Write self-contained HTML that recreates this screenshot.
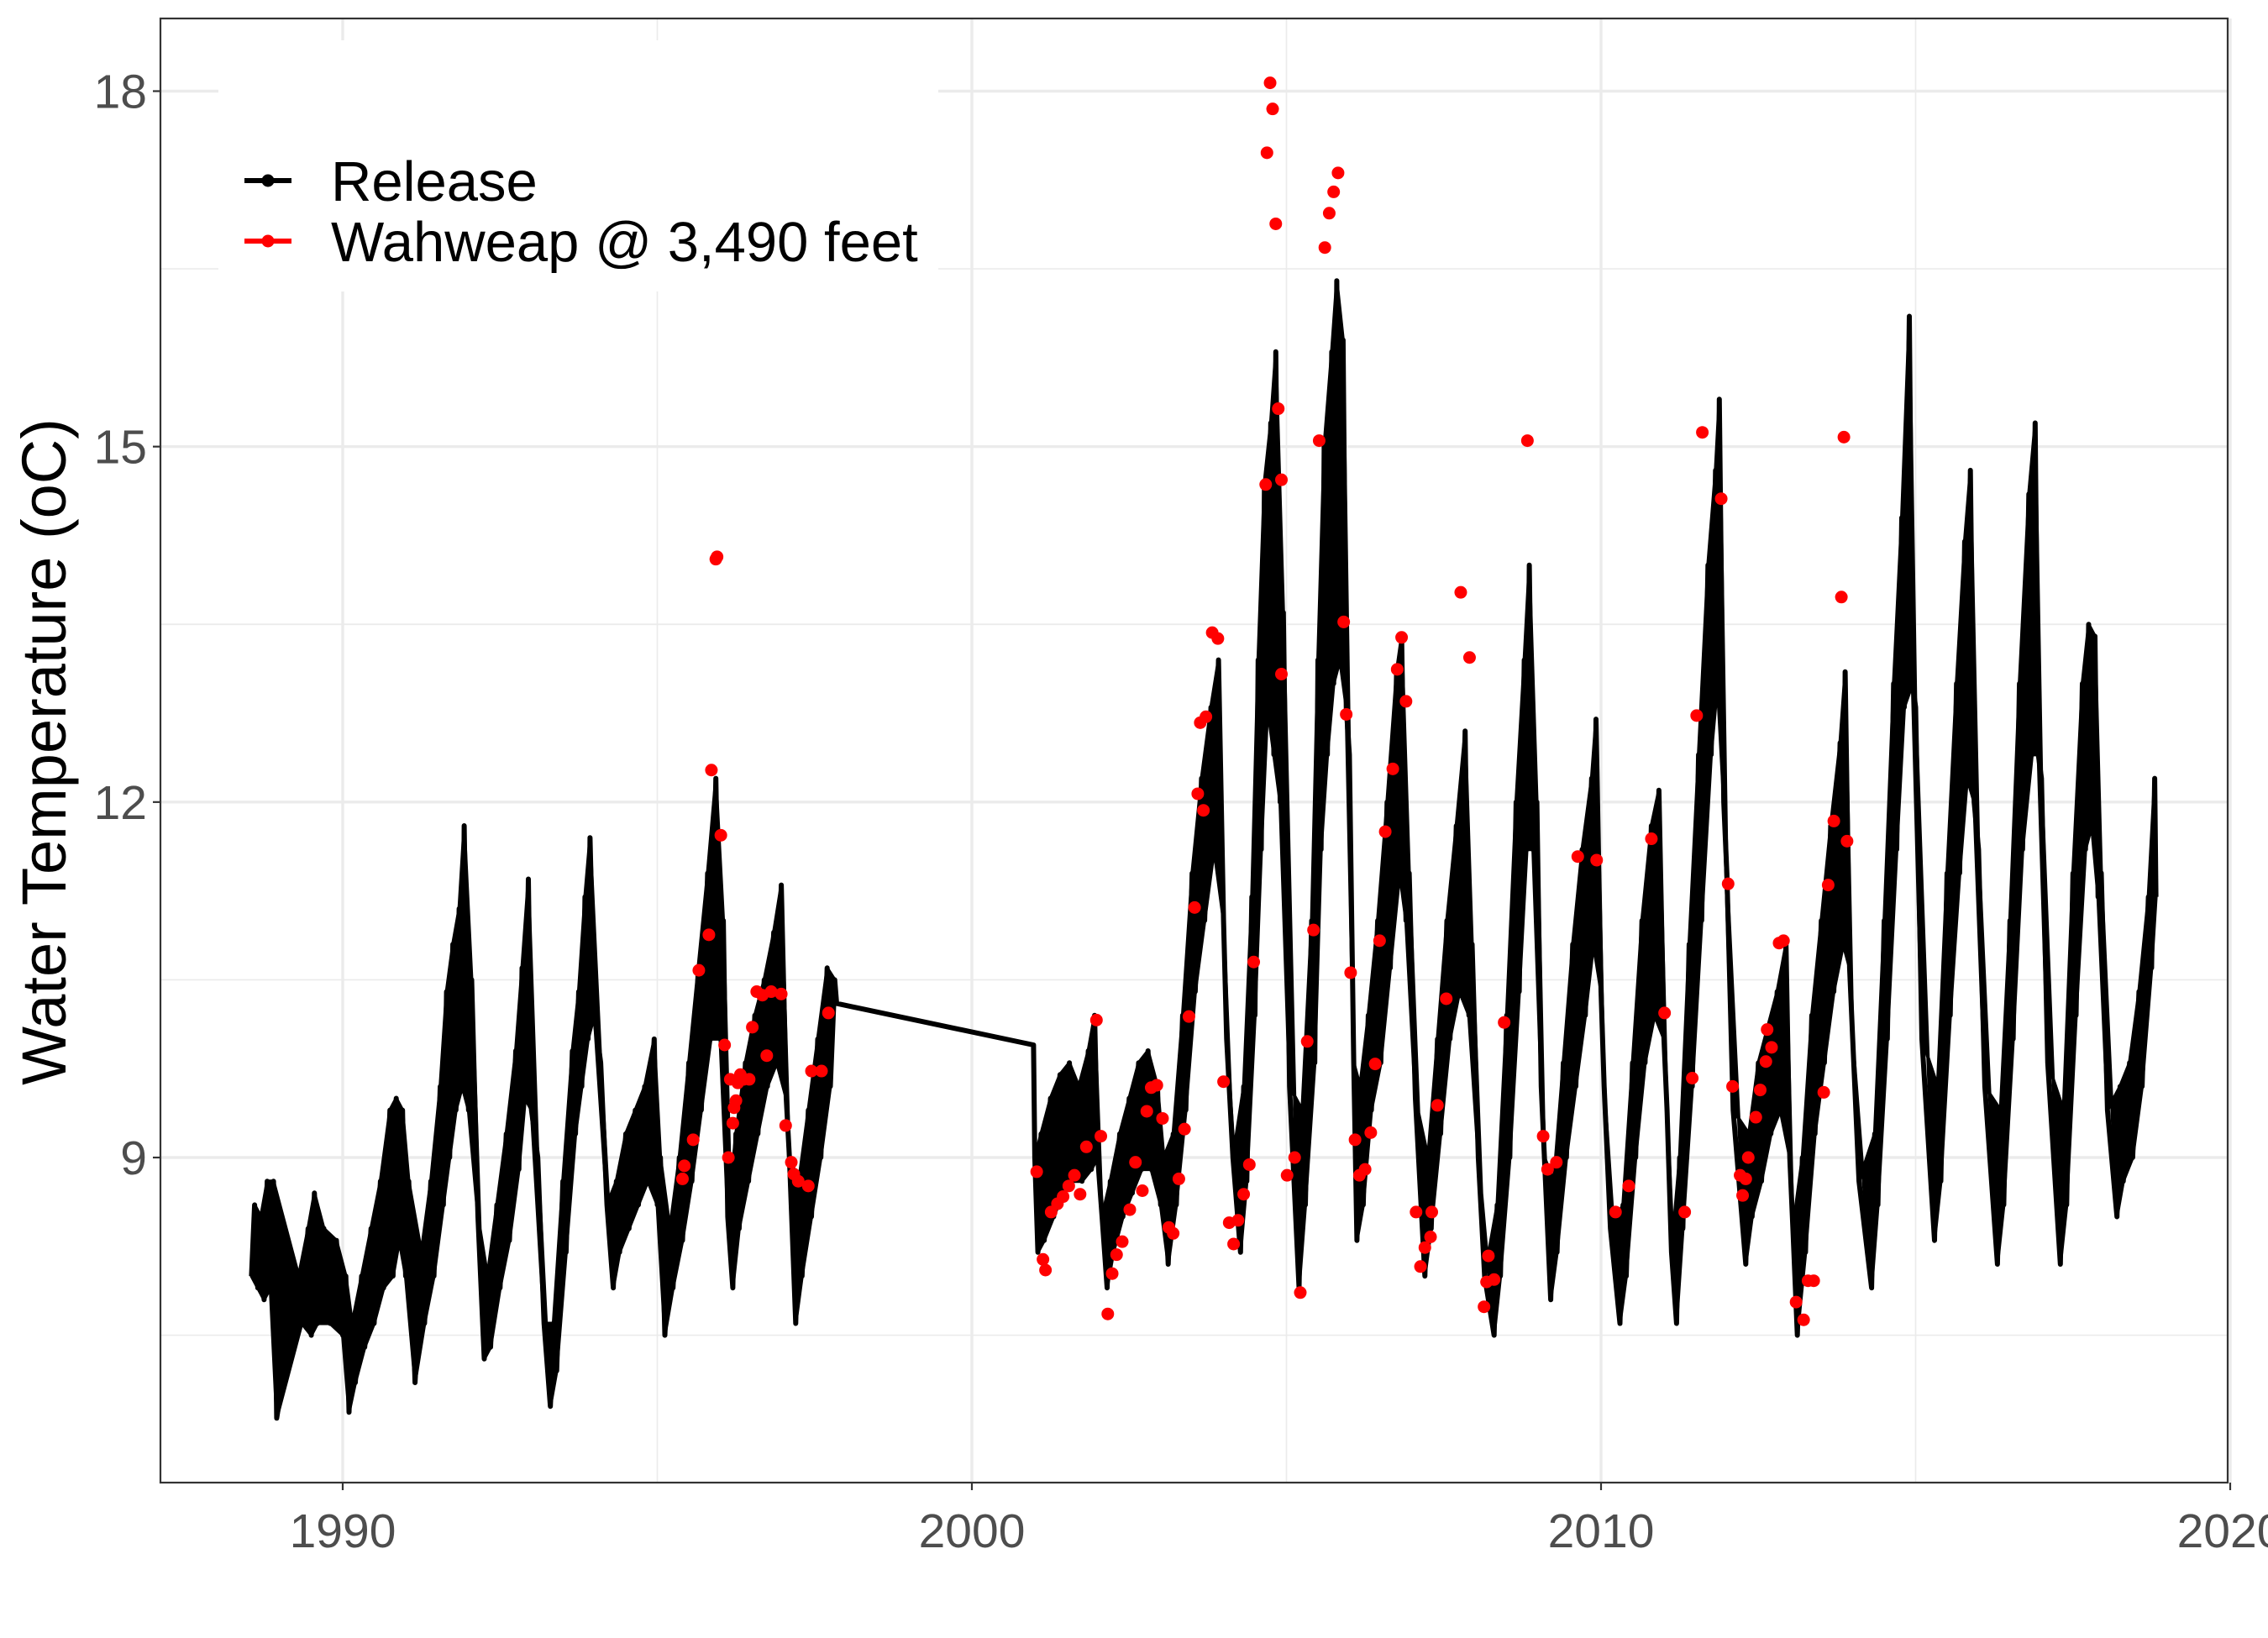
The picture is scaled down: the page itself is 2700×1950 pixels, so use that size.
<!DOCTYPE html>
<html><head><meta charset="utf-8"><style>
html,body{margin:0;padding:0;background:#fff;}
svg{display:block;font-family:"Liberation Sans",Arial,sans-serif;}
</style></head><body>
<svg id="chart" width="2700" height="1950" viewBox="0 0 2700 1950" xmlns="http://www.w3.org/2000/svg">
<rect x="0" y="0" width="2700" height="1950" fill="#fff"/>
<g id="grid"></g>
<g id="series"></g>
<g id="axes"></g>
<g id="legend"></g>
</svg>
<script>
const relDates = [1988.55,1988.6,1988.65,1988.7,1988.75,1988.8,1988.85,1988.9,1988.95,
1989.3,1989.35,1989.45,1989.5,1989.55,1989.6,1989.7,1989.8,1989.9,1990.0,1990.05,1990.1,
1990.15,1990.2,1990.3,1990.35,1990.45,1990.5,1990.6,1990.65,1990.75,1990.8,1990.85,1990.9,1990.95,1991.0,1991.05,1991.15,
1991.25,1991.3,1991.4,1991.45,1991.55,1991.6,1991.65,1991.7,1991.75,1991.8,1991.85,1991.9,1991.93,1992.0,1992.05,1992.15,1992.25,
1992.3,1992.35,1992.45,1992.5,1992.6,1992.65,1992.75,1992.8,1992.85,1992.9,1992.95,1993.0,1993.1,1993.2,1993.3,
1993.35,1993.4,1993.5,1993.55,1993.65,1993.7,1993.75,1993.8,1993.85,1993.9,1993.93,1994.0,1994.1,1994.2,1994.3,
1994.35,1994.4,1994.5,1994.55,1994.65,1994.7,1994.8,1994.85,1994.95,1995.0,1995.05,1995.12,
1995.2,1995.25,1995.35,1995.4,1995.5,1995.55,1995.65,1995.7,1995.8,1995.85,1995.93,1996.0,1996.05,1996.12,1996.2,
1996.25,1996.3,1996.4,1996.45,1996.55,1996.6,1996.7,1996.75,1996.85,1996.9,1996.97,1997.05,1997.1,1997.2,
1997.25,1997.3,1997.4,1997.45,1997.55,1997.6,1997.7,1997.75,1997.82,1997.85,
2000.98,
2001.0,2001.05,2001.1,2001.15,2001.25,2001.3,2001.4,2001.45,2001.55,2001.6,2001.7,2001.75,2001.85,2001.9,2001.95,2002.0,2002.07,2002.15,
2002.2,2002.25,2002.35,2002.4,2002.5,2002.55,2002.65,2002.7,2002.8,2002.85,2002.95,2003.0,2003.05,2003.12,
2003.2,2003.25,2003.35,2003.4,2003.5,2003.55,2003.65,2003.7,2003.8,2003.85,2003.92,2004.0,2004.05,2004.15,2004.27,
2004.32,2004.37,2004.45,2004.5,2004.55,2004.6,2004.65,2004.7,2004.75,2004.8,2004.83,2004.9,2004.95,2005.05,2005.2,
2005.25,2005.3,2005.4,2005.45,2005.5,2005.55,2005.6,2005.65,2005.72,2005.75,2005.8,2005.85,2005.9,2005.95,2006.0,2006.07,2006.12,
2006.17,2006.22,2006.3,2006.35,2006.45,2006.5,2006.6,2006.65,2006.75,2006.8,2006.83,2006.9,2006.95,2007.05,2007.2,
2007.25,2007.3,2007.4,2007.45,2007.55,2007.6,2007.7,2007.75,2007.84,2007.9,2007.95,2008.05,2008.15,2008.3,
2008.35,2008.4,2008.5,2008.55,2008.65,2008.7,2008.78,2008.82,2008.86,2008.92,2008.98,2009.05,2009.1,2009.2,
2009.25,2009.3,2009.4,2009.45,2009.55,2009.6,2009.7,2009.75,2009.85,2009.88,2009.92,2010.0,2010.05,2010.15,2010.3,
2010.35,2010.4,2010.5,2010.55,2010.65,2010.7,2010.8,2010.85,2010.92,2011.0,2011.05,2011.12,2011.2,
2011.25,2011.3,2011.4,2011.45,2011.55,2011.6,2011.7,2011.75,2011.82,2011.85,2011.88,2011.95,2012.0,2012.1,2012.3,
2012.35,2012.4,2012.5,2012.55,2012.65,2012.7,2012.8,2012.85,2012.94,2013.0,2013.05,2013.12,
2013.2,2013.25,2013.35,2013.4,2013.5,2013.55,2013.65,2013.7,2013.8,2013.85,2013.88,2013.95,2014.0,2014.1,2014.3,
2014.35,2014.4,2014.5,2014.55,2014.65,2014.7,2014.78,2014.82,2014.9,2014.95,2015.0,2015.1,2015.3,
2015.35,2015.4,2015.5,2015.55,2015.65,2015.7,2015.78,2015.82,2015.87,2015.93,2016.0,2016.1,2016.3,
2016.35,2016.4,2016.5,2016.55,2016.65,2016.7,2016.8,2016.85,2016.9,2016.95,2017.0,2017.1,2017.3,
2017.35,2017.4,2017.5,2017.55,2017.65,2017.7,2017.75,2017.8,2017.85,2017.9,2017.95,2018.05,2018.2,
2018.25,2018.3,2018.4,2018.45,2018.55,2018.6,2018.7,2018.75,2018.8,2018.82];
const relTemps = [8.0,8.6,7.9,8.5,7.8,8.8,7.9,8.8,6.8,
8.0,7.6,8.4,7.5,8.7,7.6,8.4,7.6,8.3,7.5,8.0,6.85,
7.6,7.1,8.0,7.4,8.4,7.6,8.8,7.9,9.4,8.0,9.5,8.3,9.4,8.0,8.8,7.1,
8.2,7.6,8.8,8.0,9.6,8.6,10.4,9.0,10.8,9.4,11.1,9.6,11.8,9.4,10.5,8.5,7.3,
8.0,7.4,8.6,7.9,9.2,8.3,9.9,8.9,10.6,9.5,11.35,9.4,9.0,7.6,6.9,
7.6,7.2,8.8,8.2,9.9,9.2,10.4,9.6,11.2,10.0,11.7,10.2,9.8,8.6,7.9,
8.8,8.2,9.2,8.4,9.4,8.6,9.6,8.8,10.0,8.6,9.0,7.5,
8.4,7.9,9.0,8.3,9.8,8.8,10.6,9.4,11.4,10.0,12.2,10.0,11.0,8.5,7.9,
9.2,8.4,9.8,8.8,10.2,9.2,10.5,9.6,10.9,9.8,11.3,9.5,9.0,7.6,
8.8,8.0,9.4,8.5,10.0,9.0,10.6,9.6,10.5,10.3,
9.95,
9.0,8.2,9.2,8.3,9.5,8.5,9.7,8.7,9.8,8.8,9.6,8.8,9.9,8.9,10.2,9.0,8.5,7.9,
8.8,8.2,9.2,8.5,9.5,8.7,9.8,8.9,9.9,8.9,9.6,8.6,9.0,8.1,
9.2,8.6,10.2,9.4,11.4,10.4,12.2,11.0,12.8,11.6,13.2,11.0,10.0,9.0,8.2,
9.6,8.8,11.2,10.2,13.2,11.6,14.7,12.8,15.2,12.4,15.8,12.0,13.6,9.6,7.9,
9.4,8.6,11.0,9.8,13.2,11.6,15.0,12.4,15.8,13.0,16.4,13.2,15.9,12.8,12.4,9.8,8.3,
9.6,8.6,10.2,9.4,11.0,9.8,12.0,10.6,13.1,11.4,13.4,11.0,11.4,9.5,8.0,
9.0,8.4,10.0,9.2,11.0,10.0,11.8,10.4,12.6,10.2,10.8,9.0,8.0,7.5,
8.6,8.0,10.2,9.0,12.0,10.4,13.2,11.6,14.0,11.6,12.0,9.6,9.0,7.8,
8.8,8.2,9.8,9.0,10.8,9.6,11.6,10.2,12.2,10.8,12.7,10.4,9.6,8.4,7.6,
8.6,8.0,9.8,9.0,11.0,9.8,11.8,10.2,12.1,10.0,9.4,8.2,7.6,
9.0,8.4,10.8,9.6,12.4,11.0,14.0,12.4,14.8,13.0,15.4,12.0,11.4,9.4,8.1,
9.2,8.5,9.8,8.8,10.1,9.2,10.4,9.4,10.8,9.0,8.4,7.5,
9.0,8.2,10.2,9.2,11.0,9.8,11.8,10.4,12.5,10.8,13.1,10.6,10.0,8.8,7.9,
9.2,8.6,11.0,10.0,13.0,11.6,14.4,12.8,16.1,13.0,12.8,10.0,8.3,
9.6,8.8,11.4,10.2,13.0,11.4,14.2,12.2,14.8,12.0,11.6,9.6,8.1,
9.4,8.6,11.0,10.0,13.0,11.6,14.6,12.4,15.2,12.4,12.2,9.8,8.1,
9.4,8.6,11.4,10.2,13.0,11.6,13.5,11.8,13.4,11.2,11.4,9.4,8.5,
9.6,8.8,9.8,9.0,10.4,9.6,11.2,10.6,12.2,11.2];
const wahDates = [1995.93,1995.95,1995.86,1996.01,1995.82,1995.66,1995.57,1995.43,1995.40,1996.07,1996.13,1996.16,1996.20,1996.22,1996.25,1996.28,1996.32,1996.37,1996.46,1996.51,1996.58,1996.67,1996.74,1996.81,1996.97,1997.04,1997.13,1997.17,1997.24,1997.40,1997.45,1997.61,1997.72,
2001.03,2001.13,2001.17,2001.26,2001.36,2001.45,2001.54,2001.63,2001.72,2001.82,2001.98,2002.05,2002.16,2002.23,2002.30,2002.39,2002.51,2002.60,2002.71,2002.78,2002.85,2002.94,2003.03,2003.13,2003.20,2003.29,2003.38,2003.45,2003.54,2003.59,2003.68,2003.63,2003.72,2003.82,2003.91,2004.00,2004.09,2004.16,2004.23,2004.32,2004.41,2004.48,2004.67,2004.74,2004.78,2004.69,2004.83,2004.87,2004.92,2004.92,2005.01,2005.13,2005.22,2005.33,2005.43,2005.52,2005.61,2005.68,2005.75,2005.82,2005.91,2005.95,2006.02,2006.09,2006.16,2006.25,2006.34,2006.41,2006.48,2006.57,2006.69,2006.76,2006.83,2006.90,2007.06,2007.13,2007.20,2007.29,2007.31,2007.40,2007.54,2007.77,2007.91,2008.14,2008.18,2008.21,2008.30,2008.46,2008.83,2009.08,2009.15,2009.29,2009.63,2009.93,2010.23,2010.44,2010.80,2011.01,2011.33,2011.45,2011.52,2011.61,2011.91,2012.02,2012.09,2012.21,2012.25,2012.30,2012.34,2012.46,2012.53,2012.62,2012.64,2012.71,2012.83,2012.90,2013.10,2013.22,2013.29,2013.38,2013.54,2013.61,2013.70,2013.82,2013.86,2013.91];
const wahTemps = [14.05,14.07,12.27,11.72,10.88,10.58,9.15,8.93,8.82,9.95,9.0,9.66,9.29,9.42,9.48,9.63,9.70,9.66,9.66,10.10,10.40,10.37,9.86,10.40,10.38,9.27,8.96,8.86,8.80,8.76,9.73,9.73,10.22,
8.88,8.14,8.05,8.54,8.61,8.67,8.76,8.85,8.69,9.09,10.16,9.18,7.68,8.02,8.18,8.29,8.56,8.96,8.72,9.39,9.59,9.61,9.33,8.41,8.36,8.82,9.24,10.19,11.11,12.07,11.93,12.67,12.72,13.43,13.38,9.64,8.45,8.27,8.47,8.69,8.94,10.65,14.68,18.07,17.85,17.48,16.88,15.32,14.72,13.08,8.85,9.0,7.86,9.98,10.92,15.05,16.68,16.97,17.15,17.31,13.52,12.74,10.56,9.15,8.85,8.90,9.21,9.79,10.83,11.75,12.28,13.12,13.39,12.85,8.54,8.08,8.24,8.33,8.54,9.44,10.34,13.77,13.22,7.74,7.95,8.17,7.97,10.14,15.05,9.18,8.9,8.96,11.54,11.51,8.54,8.76,11.69,10.22,8.54,9.67,12.73,15.12,14.56,11.31,9.60,8.85,8.68,8.82,9.0,9.34,9.57,9.81,10.08,9.93,10.81,10.83,7.78,7.63,7.96,7.96,9.55,11.30,11.84,13.73,15.08,11.67];
const xTicks = [1990,2000,2010,2020];
const xMinor = [1995,2005,2015];
const yTicks = [9,12,15,18];
const yMinor = [7.5,10.5,13.5,16.5];
const legendLabels = ["Release","Wahweap @ 3,490 feet"];

const NS="http://www.w3.org/2000/svg";
const P={l:191,r:2652,t:22,b:1765};
const xs = v => 408 + (v-1990)*(2655-408)/30;
const ys = v => 1378 - (v-9)*(1378-108.5)/9;
function mk(tag,attrs,parent){const e=document.createElementNS(NS,tag);for(const k in attrs)e.setAttribute(k,attrs[k]);parent.appendChild(e);return e;}
const grid=document.getElementById('grid'),series=document.getElementById('series'),axes=document.getElementById('axes'),legend=document.getElementById('legend');
const bg=mk('rect',{x:P.l,y:P.t,width:P.r-P.l,height:P.b-P.t,fill:'#fff'},grid);


xMinor.forEach(v=>{const l=mk('line',{x1:xs(v),x2:xs(v),y1:P.t,y2:P.b,stroke:'#EBEBEB','stroke-width':1.7},grid);

});
yMinor.forEach(v=>{const l=mk('line',{x1:P.l,x2:P.r,y1:ys(v),y2:ys(v),stroke:'#EBEBEB','stroke-width':1.7},grid);

});
xTicks.forEach(v=>{const l=mk('line',{x1:xs(v),x2:xs(v),y1:P.t,y2:P.b,stroke:'#EBEBEB','stroke-width':3.4},grid);

});
yTicks.forEach(v=>{const l=mk('line',{x1:P.l,x2:P.r,y1:ys(v),y2:ys(v),stroke:'#EBEBEB','stroke-width':3.4},grid);

});
// release band: split the alternating samples into two traces and fill between them (dense daily data look)
function band(i0,i1){
  let a=[],b=[];
  for(let i=i0;i<=i1;i++){const p=xs(relDates[i]).toFixed(1)+','+ys(relTemps[i]).toFixed(1);(i%2?a:b).push(p);}
  return 'M'+b.join('L')+'L'+a.reverse().join('L')+'Z';
}
const gap=relDates.indexOf(2000.98);
const bd=band(0,gap-2)+band(gap+1,relDates.length-1);
const rb=mk('path',{d:bd,fill:'#000',stroke:'#000','stroke-width':4,'stroke-linejoin':'round'},series);


let d='';relDates.forEach((t,i)=>{d+=(i?'L':'M')+xs(t).toFixed(1)+','+ys(relTemps[i]).toFixed(1);});
const rl=mk('path',{d:d,fill:'none',stroke:'#000','stroke-width':6,'stroke-linejoin':'round'},series);


wahDates.forEach((t,i)=>{const c=mk('circle',{cx:xs(t),cy:ys(wahTemps[i]),r:7.5,fill:'#FF0000'},series);

});
const br=mk('rect',{x:P.l,y:P.t,width:P.r-P.l,height:P.b-P.t,fill:'none',stroke:'#333','stroke-width':2.2},axes);


yTicks.forEach(v=>{mk('line',{x1:P.l-9,x2:P.l,y1:ys(v),y2:ys(v),stroke:'#333','stroke-width':2.2},axes);
const t=mk('text',{x:P.l-16,y:ys(v)+20,'text-anchor':'end','font-size':57,fill:'#4D4D4D'},axes);t.textContent=v;

});
xTicks.forEach(v=>{mk('line',{x1:xs(v),x2:xs(v),y1:P.b,y2:P.b+9,stroke:'#333','stroke-width':2.2},axes);
const t=mk('text',{x:xs(v),y:P.b+77,'text-anchor':'middle','font-size':57,fill:'#4D4D4D'},axes);t.textContent=v;

});
const yt=mk('text',{x:0,y:0,transform:'translate(78,895) rotate(-90)','text-anchor':'middle','font-size':74,fill:'#000'},axes);
yt.textContent='Water Temperature (oC)';


const lb=mk('rect',{x:260,y:48,width:857,height:299,fill:'#fff'},legend);


const cols=['#000','#FF0000'];const ly=[215,287];
legendLabels.forEach((s,i)=>{const g=mk('g',{},legend);


mk('line',{x1:291,x2:347,y1:ly[i],y2:ly[i],stroke:cols[i],'stroke-width':6},g);
mk('circle',{cx:319,cy:ly[i],r:7.5,fill:cols[i]},g);
const t=mk('text',{x:394,y:ly[i]+24,'font-size':67,fill:'#000'},g);t.textContent=s;});
</script>
</body></html>
